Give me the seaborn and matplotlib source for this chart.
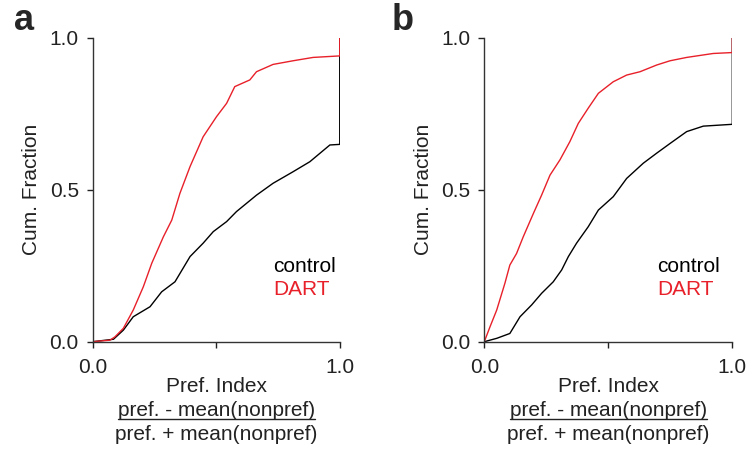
import matplotlib
matplotlib.use("Agg")
import matplotlib.pyplot as plt
import seaborn as sns
import pandas as pd
from matplotlib.lines import Line2D

# ---- data ----
a_control_x = [0.0, 0.084, 0.124, 0.164, 0.232, 0.279, 0.333, 0.394, 0.447, 0.488, 0.542,
               0.582, 0.663, 0.730, 0.811, 0.879, 0.960, 1.0, 1.0]
a_control_y = [0.0, 0.008, 0.038, 0.082, 0.115, 0.164, 0.197, 0.280, 0.324, 0.362, 0.395,
               0.428, 0.482, 0.521, 0.559, 0.592, 0.647, 0.649, 1.0]
a_dart_x = [0.0, 0.070, 0.090, 0.124, 0.164, 0.205, 0.239, 0.286, 0.320, 0.353, 0.394, 0.447,
            0.501, 0.542, 0.575, 0.636, 0.663, 0.730, 0.811, 0.892, 1.0, 1.0]
a_dart_y = [0.0, 0.005, 0.016, 0.044, 0.104, 0.181, 0.258, 0.345, 0.400, 0.488, 0.576, 0.674,
            0.740, 0.784, 0.839, 0.861, 0.888, 0.912, 0.924, 0.935, 0.940, 1.0]

b_control_x = [0.0, 0.050, 0.103, 0.144, 0.191, 0.231, 0.278, 0.312, 0.339, 0.372, 0.419, 0.460,
               0.520, 0.574, 0.641, 0.695, 0.749, 0.816, 0.883, 1.0, 1.0]
b_control_y = [0.0, 0.011, 0.027, 0.082, 0.121, 0.159, 0.197, 0.236, 0.280, 0.324, 0.378, 0.433,
               0.477, 0.537, 0.587, 0.620, 0.652, 0.691, 0.709, 0.715, 1.0]
b_dart_x = [0.0, 0.023, 0.050, 0.083, 0.103, 0.130, 0.157, 0.198, 0.231, 0.265, 0.305, 0.345,
            0.379, 0.419, 0.460, 0.520, 0.574, 0.628, 0.695, 0.749, 0.816, 0.923, 1.0, 1.0]
b_dart_y = [0.0, 0.049, 0.104, 0.192, 0.252, 0.290, 0.345, 0.422, 0.482, 0.548, 0.598, 0.658,
            0.718, 0.768, 0.817, 0.855, 0.877, 0.888, 0.910, 0.924, 0.935, 0.948, 0.951, 1.0]

groups = ["control", "DART"]
tick_vals = [0.0, 0.5, 1.0]
y_tick_labels = ["0.0", "0.5", "1.0"]
x_tick_labels = ["0.0", "", "1.0"]
panel_letters = ["a", "b"]
xlabel_lines = ["Pref. Index", "pref. - mean(nonpref)", "pref. + mean(nonpref)"]

RED = "#E8202A"
palette = {"control": "black", "DART": RED}

sns.set_style("white")
plt.rcParams["font.family"] = ["Liberation Sans", "DejaVu Sans"]

fig = plt.figure(figsize=(7.49, 4.5), dpi=100)
ax_a = fig.add_axes([0.1238, 0.2407, 0.3298, 0.6756])
ax_b = fig.add_axes([0.6466, 0.2407, 0.3311, 0.6756])

panels = [
    (ax_a, a_control_x, a_control_y, a_dart_x, a_dart_y, 0.729),
    (ax_b, b_control_x, b_control_y, b_dart_x, b_dart_y, 0.698),
]

for i, (ax, cx, cy, dx, dy, legx) in enumerate(panels):
    df = pd.concat([
        pd.DataFrame({"x": cx, "y": cy, "group": "control", "order": range(len(cx))}),
        pd.DataFrame({"x": dx, "y": dy, "group": "DART", "order": range(len(dx))}),
    ])
    sns.lineplot(data=df, x="x", y="y", hue="group", hue_order=groups, palette=palette,
                 sort=False, estimator=None, units="group", linewidth=1.0, ax=ax,
                 legend=False)
    ax.set_xlim(0, 1)
    ax.set_ylim(0, 1)
    ax.set_xticks(tick_vals)
    ax.set_xticklabels(x_tick_labels)
    ax.set_yticks(tick_vals)
    ax.set_yticklabels(y_tick_labels)
    ax.tick_params(direction="out", length=4, width=1, colors="#222222",
                   labelsize=15, pad=6, bottom=True, left=True)
    ax.tick_params(axis="x", pad=8)
    for s in ["top", "right"]:
        ax.spines[s].set_visible(False)
    for s in ["left", "bottom"]:
        ax.spines[s].set_color("#333333")
        ax.spines[s].set_linewidth(1)
    ax.set_xlabel("")
    ax.set_ylabel("Cum. Fraction", fontsize=15, labelpad=6, color="#222222")
    ax.text(legx, 0.247, "control", transform=ax.transAxes, color="black",
            fontsize=15, va="center", ha="left")
    ax.text(legx, 0.171, "DART", transform=ax.transAxes, color=RED,
            fontsize=15, va="center", ha="left")
    ax.patch.set_alpha(0)

    # x label block
    pos = ax.get_position()
    cxf = (pos.x0 + pos.x1) / 2
    ys = [1 - 387 / 450, 1 - 411 / 450, 1 - 434 / 450]
    t_num = None
    for j, (line, yy) in enumerate(zip(xlabel_lines, ys)):
        t = fig.text(cxf, yy, line, ha="center", va="center", fontsize=15, color="#222222")
        if j == 1:
            t_num = t
    fig.canvas.draw()
    r = fig.canvas.get_renderer()
    bb = t_num.get_window_extent(r)
    W, H = fig.bbox.width, fig.bbox.height
    uy = (bb.y0 + 1.5) / H
    fig.add_artist(Line2D([bb.x0 / W, bb.x1 / W], [uy, uy], color="#222222",
                          linewidth=1, transform=fig.transFigure))

    # panel letter
    lx = [24 / 749, 403 / 749][i]
    fig.text(lx, 1 - 21 / 450, panel_letters[i], fontsize=26, fontweight="bold",
             ha="center", va="center")

fig.savefig("out.png", dpi=100)
